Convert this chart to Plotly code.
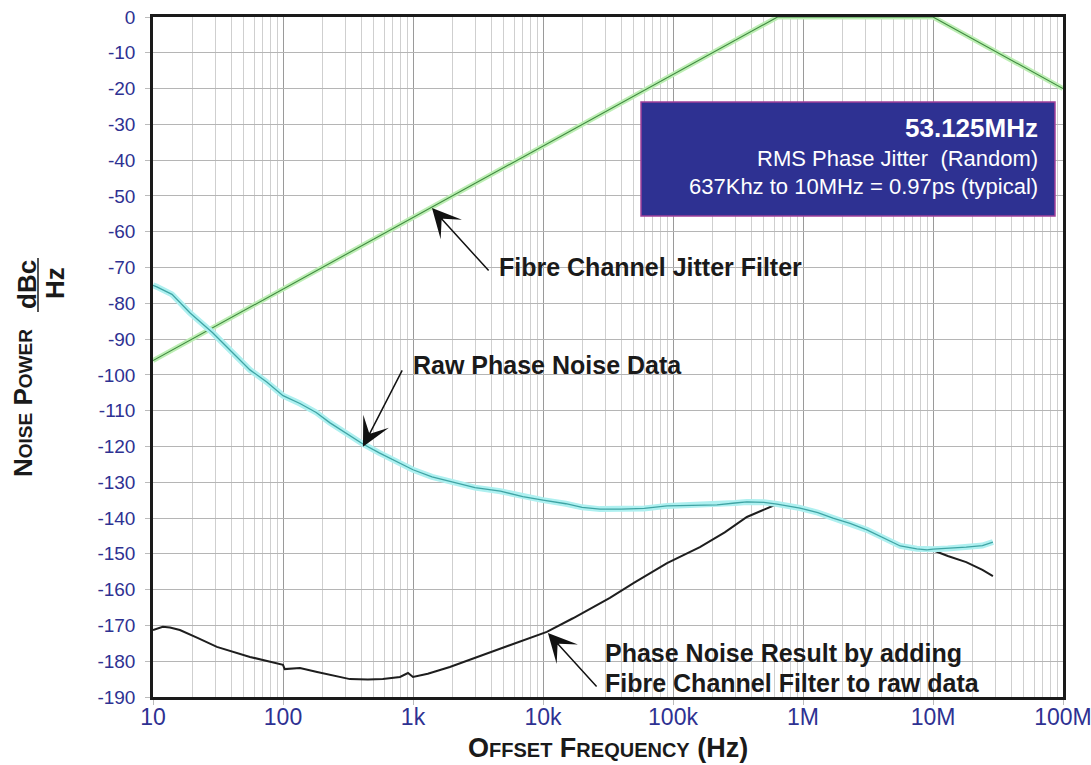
import plotly.graph_objects as go

# ---------------- data ----------------
filter_freq = [10, 637000, 10000000, 100000000]
filter_db = [-96.0, 0.0, 0.0, -20.0]

raw_freq = [10, 10.7, 14, 19.3, 28.9, 40, 55.7, 75, 100, 135, 180, 230, 310, 412,
            550, 794, 1000, 1400, 2000, 3000, 4700, 7000, 10000, 15000, 20000, 27400,
            40000, 60000, 90000, 140000, 218000, 300000, 370000, 500000, 631000,
            948000, 1300000, 1700000, 2300000, 3100000, 4200000, 5600000, 7500000,
            9000000, 10000000, 13000000, 18000000, 24000000, 28900000]
raw_db = [-75.0, -75.4, -77.5, -82.7, -88.3, -93.5, -98.6, -102.0, -105.8, -108.0,
          -110.5, -113.4, -116.5, -119.3, -121.8, -124.6, -126.5, -128.5, -130.0,
          -131.5, -132.5, -134.0, -135.0, -136.0, -137.0, -137.5, -137.5, -137.3,
          -136.6, -136.4, -136.3, -135.8, -135.5, -135.6, -136.1, -137.2, -138.5,
          -140.0, -141.5, -143.3, -145.6, -147.8, -148.6, -148.9, -148.7, -148.5,
          -148.1, -147.7, -146.7]

res_freq = [10, 11.9, 13.5, 16.1, 22, 31, 55.7, 100, 103, 135, 183, 250, 327, 450,
            586, 794, 915, 1000, 1300, 1920, 3460, 6290, 10700, 17000, 32700, 50000,
            90000, 161000, 250000, 370000, 631000, 948000, 1300000, 1700000, 2300000,
            3100000, 4200000, 5600000, 7500000, 9000000, 10000000, 13000000, 18000000,
            24000000, 28900000]
res_db = [-171.3, -170.4, -170.6, -171.3, -173.5, -176.0, -178.8, -181.0, -182.2,
          -181.9, -183.0, -184.0, -185.0, -185.1, -185.0, -184.4, -183.3, -184.4,
          -183.5, -181.6, -178.3, -174.9, -171.8, -168.0, -162.3, -158.1, -152.6,
          -148.1, -144.0, -139.7, -136.1, -137.2, -138.5, -140.0, -141.5, -143.3,
          -145.6, -147.8, -148.6, -148.9, -149.0, -150.6, -152.3, -154.5, -156.2]

x_tickvals = [10, 100, 1000, 10000, 100000, 1000000, 10000000, 100000000]
x_ticktext = ["10", "100", "1k", "10k", "100k", "1M", "10M", "100M"]
y_tickvals = list(range(0, -191, -10))
y_ticktext = [str(v) for v in y_tickvals]

BLUE = "#2e3192"
FONT = "Liberation Sans, Arial, sans-serif"
NARROW = "Liberation Sans Narrow, Liberation Sans, Arial, sans-serif"

fig = go.Figure()

# filter (green)
fig.add_trace(go.Scatter(x=filter_freq, y=filter_db, mode="lines",
                         line=dict(color="#bdeeb4", width=5), hoverinfo="skip", showlegend=False))
fig.add_trace(go.Scatter(x=filter_freq, y=filter_db, mode="lines",
                         line=dict(color="#3f8a3f", width=1.1), showlegend=False))
# result (black)
fig.add_trace(go.Scatter(x=res_freq, y=res_db, mode="lines",
                         line=dict(color="#1e1e1e", width=2), showlegend=False))
# raw (cyan)
fig.add_trace(go.Scatter(x=raw_freq, y=raw_db, mode="lines",
                         line=dict(color="#aef0f0", width=6), hoverinfo="skip", showlegend=False))
fig.add_trace(go.Scatter(x=raw_freq, y=raw_db, mode="lines",
                         line=dict(color="#3fa4a4", width=1.3), showlegend=False))

L, R, T, B = 153, 28, 17, 68
W, H = 1091, 765
PW, PH = W - L - R, H - T - B


def px(xp):
    return (xp - L) / PW


def py(yp):
    return (H - B - yp) / PH


fig.update_layout(
    width=W, height=H,
    margin=dict(l=L, r=R, t=T, b=B, autoexpand=False),
    paper_bgcolor="white", plot_bgcolor="white",
    showlegend=False,
    xaxis=dict(type="log", range=[1, 8], tickvals=x_tickvals, ticktext=x_ticktext,
               automargin=False, ticklabeloverflow="allow",
               showgrid=True, gridcolor="#9a9a9a", gridwidth=1.3,
               minor=dict(dtick="D1", showgrid=True, gridcolor="#cfcfcf", gridwidth=1,
                          ticks=""),
               ticks="outside", ticklen=5, tickcolor="#bbbbbb", ticklabelstandoff=-7,
               tickfont=dict(family=NARROW, size=23, color=BLUE),
               showline=True, linecolor="#1a1a1a", linewidth=2.5, mirror=True,
               zeroline=False),
    yaxis=dict(range=[-190, 0], tickvals=y_tickvals, ticktext=y_ticktext,
               automargin=False,
               showgrid=True, gridcolor="#b5b5b5", gridwidth=1,
               ticks="outside", ticklen=5, tickcolor="#bbbbbb", ticklabelstandoff=6,
               tickfont=dict(family=FONT, size=19, color=BLUE),
               showline=True, linecolor="#1a1a1a", linewidth=2.5, mirror=True,
               zeroline=False),
)

shapes = []
# info box
shapes.append(dict(type="rect", xref="paper", yref="paper",
                   x0=px(641), x1=px(1055), y0=py(216), y1=py(102),
                   fillcolor=BLUE, line=dict(color="#a0409a", width=1.5), layer="above"))
# fraction bar for dBc/Hz
shapes.append(dict(type="line", xref="paper", yref="paper",
                   x0=px(38), x1=px(38), y0=py(312), y1=py(258),
                   line=dict(color="#1a1a1a", width=1.5)))
fig.update_layout(shapes=shapes)

ann = []
# box texts
ann.append(dict(xref="paper", yref="paper", x=px(1040), y=py(128), xanchor="right", yanchor="middle",
                text="<b>53.125MHz</b>", showarrow=False,
                font=dict(family=FONT, size=26, color="white")))
ann.append(dict(xref="paper", yref="paper", x=px(1040), y=py(158), xanchor="right", yanchor="middle",
                text="RMS Phase Jitter&nbsp;&nbsp;(Random)", showarrow=False,
                font=dict(family=FONT, size=22, color="white")))
ann.append(dict(xref="paper", yref="paper", x=px(1040), y=py(186), xanchor="right", yanchor="middle",
                text="637Khz to 10MHz = 0.97ps (typical)", showarrow=False,
                font=dict(family=FONT, size=22, color="white")))

# labels
lab_font = dict(family=FONT, size=25, color="#1a1a1a")
ann.append(dict(xref="paper", yref="paper", x=px(497), y=py(267), xanchor="left", yanchor="middle",
                text="<b>Fibre Channel Jitter Filter</b>", showarrow=False, font=lab_font))
ann.append(dict(xref="paper", yref="paper", x=px(411), y=py(365), xanchor="left", yanchor="middle",
                text="<b>Raw Phase Noise Data</b>", showarrow=False, font=lab_font))
ann.append(dict(xref="paper", yref="paper", x=px(603), y=py(653), xanchor="left", yanchor="middle",
                text="<b>Phase Noise Result by adding</b>", showarrow=False, font=lab_font))
ann.append(dict(xref="paper", yref="paper", x=px(603), y=py(683), xanchor="left", yanchor="middle",
                text="<b>Fibre Channel Filter to raw data</b>", showarrow=False, font=lab_font))

# arrows (head at data point, tail offset in pixels)
arrow_common = dict(text="", showarrow=True, arrowhead=3, arrowsize=3.2, arrowwidth=1.5,
                    arrowcolor="#111111", xref="x", yref="y")
ann.append(dict(x=3.146, y=-53.4, ax=58, ay=64, **arrow_common))
ann.append(dict(x=2.615, y=-120.1, ax=40, ay=-78, **arrow_common))
ann.append(dict(x=4.038, y=-172.1, ax=50, ay=55, **arrow_common))

# axis titles
ann.append(dict(xref="paper", yref="paper", x=px(608), y=py(748), xanchor="center", yanchor="middle",
                text="<b>O<span style='font-size:20px'>FFSET</span> F<span style='font-size:20px'>REQUENCY</span> (Hz)</b>",
                showarrow=False, font=dict(family=NARROW, size=27, color="#1a1a1a")))
ann.append(dict(xref="paper", yref="paper", x=px(23), y=py(403), xanchor="center", yanchor="middle",
                textangle=-90,
                text="<b>N<span style='font-size:19px'>OISE</span> P<span style='font-size:19px'>OWER</span></b>",
                showarrow=False, font=dict(family=FONT, size=26, color="#1a1a1a")))
ann.append(dict(xref="paper", yref="paper", x=px(27), y=py(285), xanchor="center", yanchor="middle",
                textangle=-90, text="<b>dBc</b>", showarrow=False,
                font=dict(family=FONT, size=26, color="#1a1a1a")))
ann.append(dict(xref="paper", yref="paper", x=px(55), y=py(283), xanchor="center", yanchor="middle",
                textangle=-90, text="<b>Hz</b>", showarrow=False,
                font=dict(family=FONT, size=26, color="#1a1a1a")))

fig.update_layout(annotations=ann)

fig.write_html("out.html", config={"displayModeBar": False},
               post_script="document.body.style.margin='0';")
